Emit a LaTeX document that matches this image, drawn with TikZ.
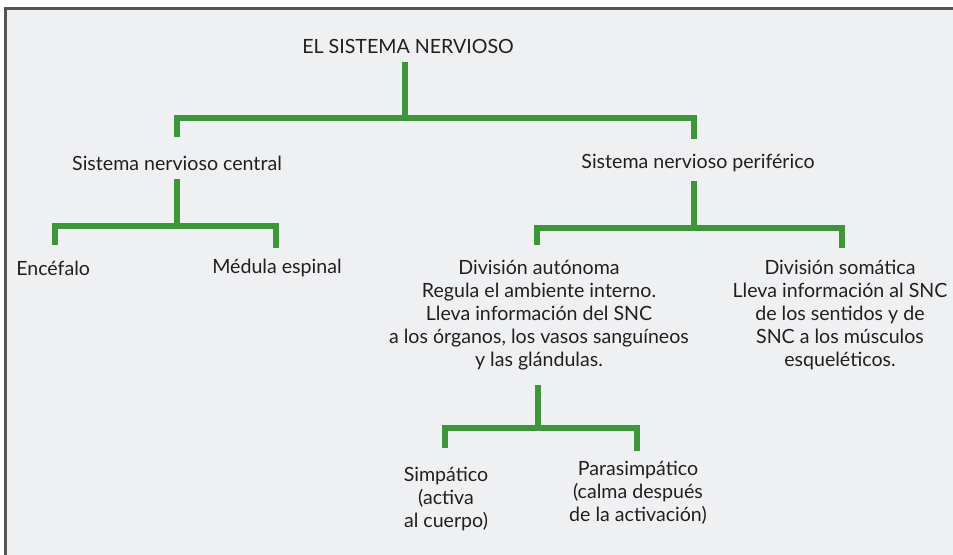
\documentclass[tikz,border=0pt]{standalone}
\usepackage{fontspec}
\setmainfont{Lato}
\definecolor{bggray}{HTML}{EFF0F2}
\definecolor{framegray}{HTML}{555555}
\definecolor{treegreen}{HTML}{3D963A}
\definecolor{txt}{HTML}{231F20}
\begin{document}
\begin{tikzpicture}[x=0.75pt,y=-0.75pt,
  lbl/.style={inner sep=0pt,align=center,text=txt,font=\fontsize{14.7}{17.3}\selectfont},
  branch/.style={draw=treegreen,line width=3.9pt,line join=miter,line cap=butt}]
\useasboundingbox (0,0) rectangle (953,555);
\fill[white] (0,0) rectangle (953,555);
\fill[bggray] (5,8) rectangle (953,555);
\draw[framegray,line width=1.6pt] (5.5,555) -- (5.5,8.5) -- (953,8.5);
% nodes
\node[lbl] (title) at (408,46) {EL SISTEMA NERVIOSO};
\node[lbl] (snc) at (177,163) {Sistema nervioso central};
\node[lbl] (snp) at (698,163) {Sistema nervioso periférico};
\node[lbl,anchor=west] (enc) at (16,268) {Encéfalo};
\node[lbl] (med) at (277,268) {Médula espinal};
\node[lbl,anchor=north] (aut) at (539,260) {División autónoma\\Regula el ambiente interno.\\Lleva información del SNC\\a los órganos, los vasos sanguíneos\\y las glándulas.};
\node[lbl,anchor=north] (som) at (840,260) {División somática\\Lleva información al SNC\\de los sentidos y de\\SNC a los músculos\\esqueléticos.};
\node[lbl,anchor=north] (simp) at (446,467) {Simpático\\(activa\\al cuerpo)};
\node[lbl,anchor=north] (para) at (638,461) {Parasimpático\\(calma después\\de la activación)};
% junction coordinates
\coordinate (t0) at (405,62);
\coordinate (t1) at (405,118);
\coordinate (c0) at (177,179);
\coordinate (c1) at (177,226);
\coordinate (p0) at (694,181);
\coordinate (p1) at (694,228);
\coordinate (a0) at (538,385);
\coordinate (a1) at (538,428);
% connectors
\draw[branch] (t0) -- (t1);
\draw[branch] (177,137) -- (t1 -| c0) -- (t1 -| p0) -- (694,139);
\draw[branch] (c0) -- (c1);
\draw[branch] (55,245) -- (c1 -| 55,0) -- (c1 -| 276,0) -- (276,248);
\draw[branch] (p0) -- (p1);
\draw[branch] (537,245) -- (p1 -| 537,0) -- (p1 -| 842,0) -- (842,248);
\draw[branch] (a0) -- (a1);
\draw[branch] (445,448) -- (a1 -| 445,0) -- (a1 -| 637,0) -- (637,451);
\end{tikzpicture}
\end{document}
